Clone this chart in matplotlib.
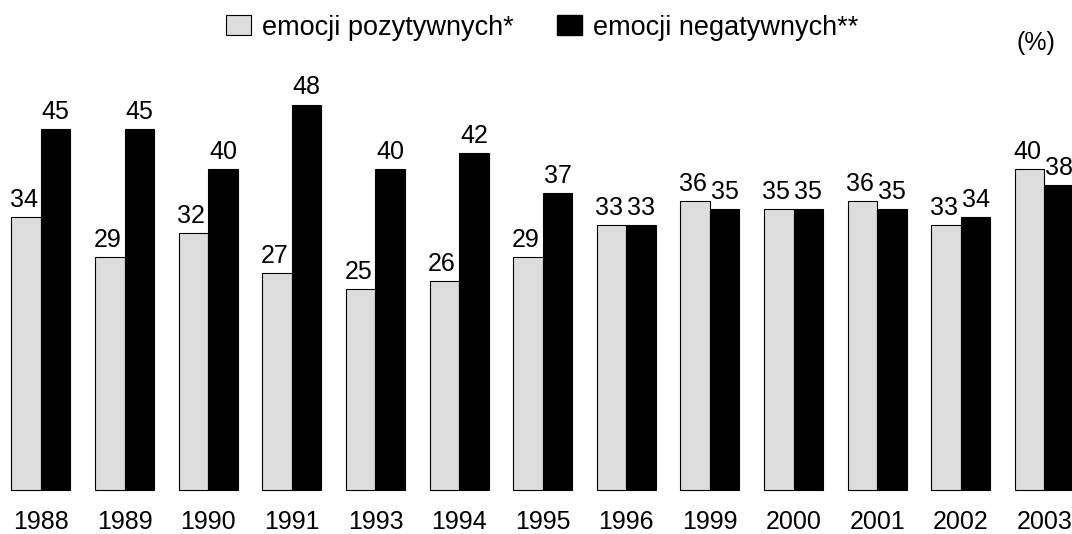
import matplotlib
matplotlib.use("Agg")
import matplotlib.pyplot as plt
from matplotlib.patches import Patch
import numpy as np

plt.rcParams['font.family'] = ['Liberation Sans', 'DejaVu Sans']

years = ['1988', '1989', '1990', '1991', '1993', '1994', '1995',
         '1996', '1999', '2000', '2001', '2002', '2003']
positive = [34, 29, 32, 27, 25, 26, 29, 33, 36, 35, 36, 33, 40]
negative = [45, 45, 40, 48, 40, 42, 37, 33, 35, 35, 35, 34, 38]

fig = plt.figure(figsize=(10.72, 5.34), dpi=100)
ax = fig.add_axes([0, 0, 1, 1])

x = np.arange(len(years))
w = 0.353
gray = '#dddddd'

b1 = ax.bar(x - w / 2, positive, w, color=gray, edgecolor='black', linewidth=0.8)
b2 = ax.bar(x + w / 2, negative, w, color='black', edgecolor='black', linewidth=0.8)

for rect, v in zip(b1, positive):
    ax.annotate(str(v), (rect.get_x() + rect.get_width() / 2 - 0.03, v),
                xytext=(0, 4), textcoords='offset points',
                ha='center', va='bottom', fontsize=18)
for rect, v in zip(b2, negative):
    ax.annotate(str(v), (rect.get_x() + rect.get_width() / 2, v),
                xytext=(0, 4), textcoords='offset points',
                ha='center', va='bottom', fontsize=18)

for xi, yr in zip(x, years):
    ax.text(xi, -4.0, yr, ha='center', va='center', fontsize=18)

ax.set_xlim(-0.49, 12.33)
ax.set_ylim(-5.49, 61.1)
ax.axis('off')

handles = [Patch(facecolor=gray, edgecolor='black', linewidth=0.8),
           Patch(facecolor='black', edgecolor='black')]
fig.legend(handles, ['emocji pozytywnych*', 'emocji negatywnych**'],
           loc='center', bbox_to_anchor=(0.506, 0.948), ncol=2, frameon=False,
           fontsize=19.5, handlelength=0.92, handleheight=0.75,
           handletextpad=0.4, columnspacing=1.6)

fig.text(0.966, 0.919, '(%)', ha='center', va='center', fontsize=18)

fig.savefig('out.png', dpi=100)
